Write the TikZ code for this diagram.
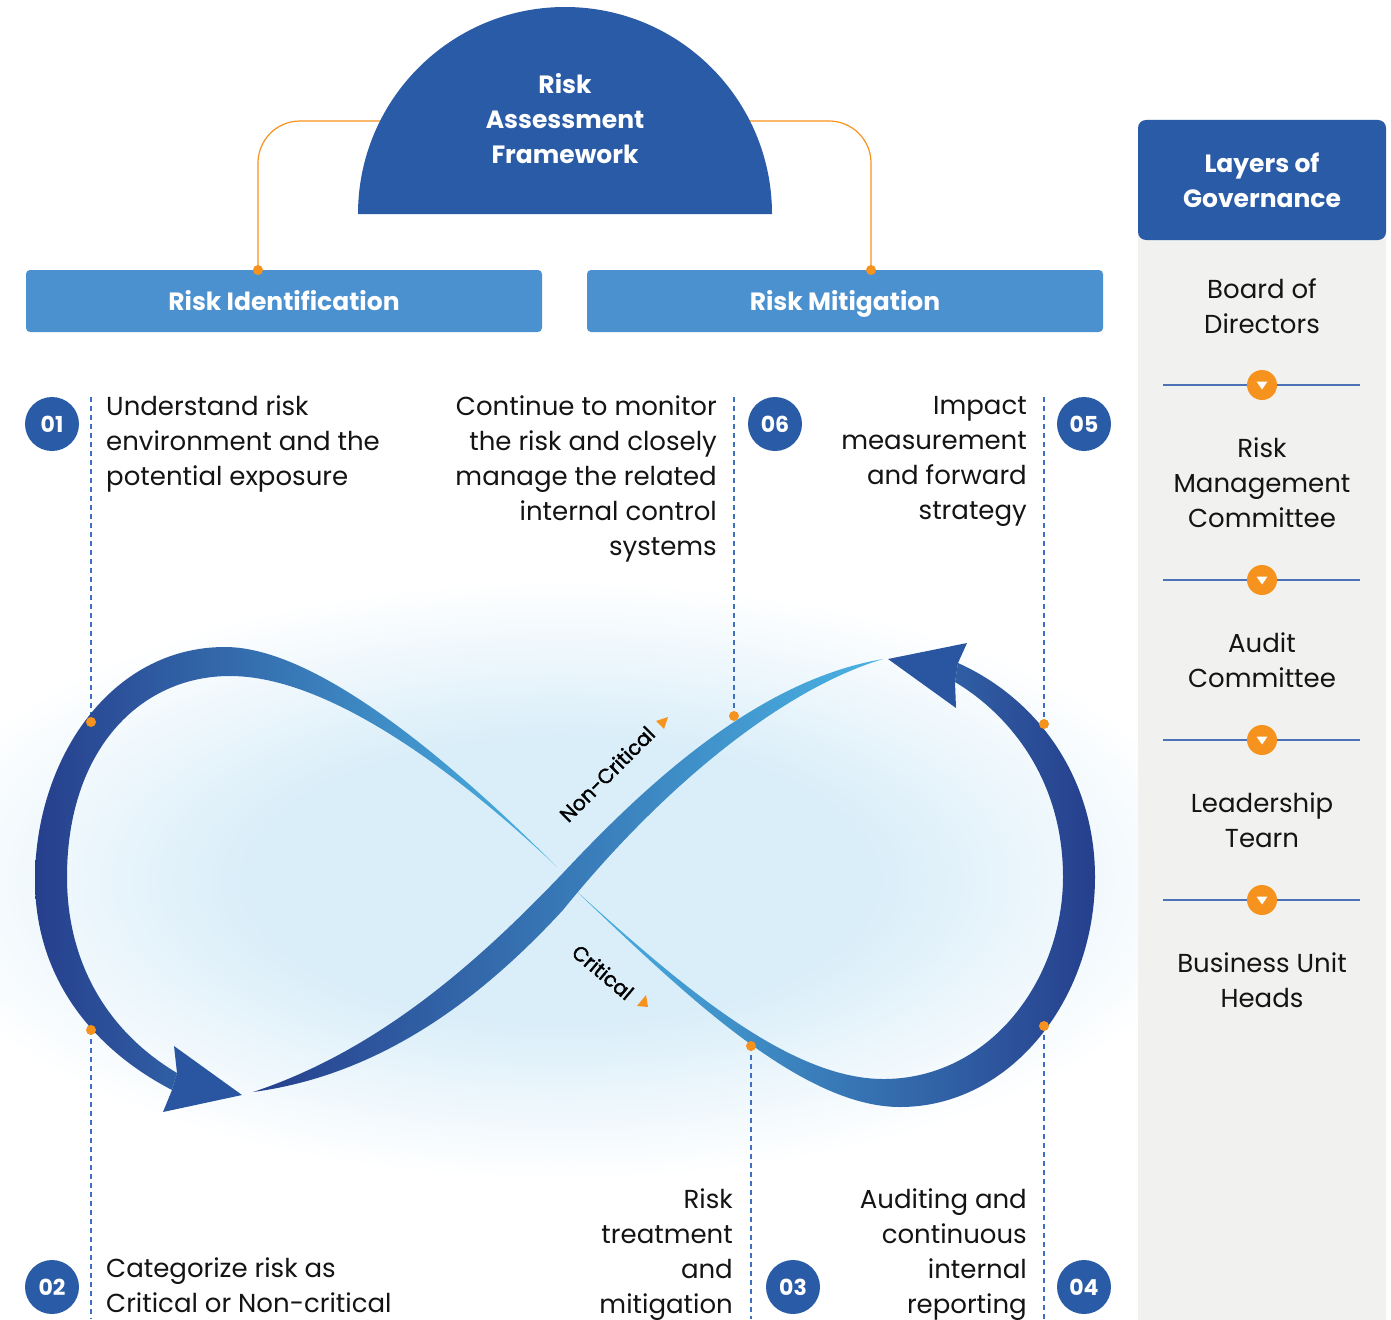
\documentclass[tikz,border=0pt]{standalone}
\usepackage{fontspec}
\setmainfont{Poppins}
\newfontfamily\tagfont{Poppins}[FakeBold=1.6]
\definecolor{domeblue}{HTML}{2A5BA6}
\definecolor{barblue}{HTML}{4B91CF}
\definecolor{loopdark}{HTML}{263F8C}
\definecolor{loopmid}{HTML}{2F68AD}
\definecolor{looplight}{HTML}{4AB3E3}
\definecolor{headblue}{HTML}{2A55A0}
\definecolor{accent}{HTML}{F6921E}
\definecolor{panelgrey}{HTML}{F1F1EF}
\definecolor{dashblue}{HTML}{3F6FC0}
\definecolor{sepblue}{HTML}{4D72B8}
\definecolor{glowblue}{HTML}{DAEEF9}
\definecolor{inktext}{HTML}{141414}
\pgfdeclareradialshading{bgglow}{\pgfpoint{0bp}{0bp}}{color(0bp)=(glowblue); color(12bp)=(glowblue); color(25bp)=(white); color(50bp)=(white)}
\begin{document}
\begin{tikzpicture}[x=1pt,y=-1pt,
  bar/.style={fill=barblue,rounded corners=4pt,minimum width=516pt,minimum height=62pt,inner sep=0pt,text height=18pt,text depth=0pt,text=white,font=\bfseries\fontsize{25}{30}\selectfont},
  num/.style={circle,fill=domeblue,minimum size=54pt,inner sep=0pt,text=white,font=\bfseries\fontsize{22}{24}\selectfont},
  body/.style={inner sep=0pt,text=inktext,font=\fontsize{26}{35}\selectfont},
  tag/.style={inner sep=0pt,text=black,font=\tagfont\fontsize{20.5}{22}\selectfont},
  link/.style={draw=accent,line width=1.2pt,rounded corners=42pt},
  guide/.style={draw=dashblue,line width=1.4pt,dash pattern=on 5pt off 4pt},
  sep/.style={draw=sepblue,line width=1.3pt},
  dot/.style={fill=accent}]
\useasboundingbox (0,0) rectangle (1391,1319);
\fill[white] (0,0) rectangle (1391,1319);
\shade[shading=bgglow] (560,880) ellipse [x radius=660, y radius=300];

\fill[panelgrey,rounded corners=8pt] (1138,120) rectangle (1386,1360);
\node[fill=domeblue,rounded corners=8pt,minimum width=248pt,minimum height=120pt,inner sep=0pt,align=center,text=white,font=\bfseries\fontsize{25}{35}\selectfont] (layers) at (1262,180) {Layers of\\Governance};
\foreach \y in {385,580,740,900} {
  \draw[sep] (1163,\y) -- (1360,\y);
  \fill[accent] (1262,\y) circle (15pt);
  \fill[white] (1256.5,\y-3.5) -- (1267.5,\y-3.5) -- (1262,\y+4.5) -- cycle;
}
\node[body,align=center,anchor=north] (g1) at (1262,278) {Board of\\Directors};
\node[body,align=center,anchor=north] (g2) at (1262,438) {Risk\\Management\\Committee};
\node[body,align=center,anchor=north] (g3) at (1262,633) {Audit\\Committee};
\node[body,align=center,anchor=north] (g4) at (1262,793) {Leadership\\Tearn};
\node[body,align=center,anchor=north] (g5) at (1262,953) {Business Unit\\Heads};

\node[bar] (ident) at (284,301) {Risk Identification};
\node[bar] (mitig) at (845,301) {Risk Mitigation};
\coordinate (domeL) at (420,121);
\coordinate (domeR) at (710,121);
\coordinate (identTop) at (258,270);
\coordinate (mitigTop) at (871,270);
\draw[link] (domeL) -| (identTop);
\draw[link] (domeR) -| (mitigTop);
\fill[dot] (identTop) circle (5pt);
\fill[dot] (mitigTop) circle (5pt);
\fill[domeblue] (358,214) arc[start angle=180, end angle=360, radius=207] -- cycle;
\node[inner sep=0pt,align=center,text=white,font=\bfseries\fontsize{25}{35}\selectfont] (frame) at (565,119) {Risk\\Assessment\\Framework};

\coordinate (d1a) at (91,397);   \coordinate (d1b) at (91,722);
\coordinate (d2a) at (91,1030);  \coordinate (d2b) at (91,1319);
\coordinate (d6a) at (734,397);  \coordinate (d6b) at (734,716);
\coordinate (d5a) at (1044,397); \coordinate (d5b) at (1044,724);
\coordinate (d4a) at (1044,1026);\coordinate (d4b) at (1044,1319);
\coordinate (d3a) at (751,1046); \coordinate (d3b) at (751,1319);
\draw[guide] (d1a) -- (d1b);
\draw[guide] (d2a) -- (d2b);
\draw[guide] (d6a) -- (d6b);
\draw[guide] (d5a) -- (d5b);
\draw[guide] (d4a) -- (d4b);
\draw[guide] (d3a) -- (d3b);

\shade[left color=loopdark,middle color=loopmid,right color=looplight]
  (557,867) .. controls (460,770) and (320,647) .. (225,647)
  .. controls (110,647) and (35,760) .. (35,880)
  .. controls (35,980) and (95,1050) .. (172,1090)
  -- (177,1073)
  .. controls (105,1030) and (67,960) .. (67,877)
  .. controls (67,750) and (140,676) .. (230,676)
  .. controls (330,676) and (460,775) .. (557,867) -- cycle;
\fill[headblue] (174,1046) -- (242,1095) -- (163,1112) -- (172,1090) -- (177,1073) -- cycle;

\shade[left color=looplight,middle color=loopmid,right color=loopdark]
  (573,888) .. controls (680,985) and (790,1080) .. (885,1079)
  .. controls (990,1078) and (1063,980) .. (1063,877)
  .. controls (1063,780) and (1010,715) .. (955,682)
  -- (958,663)
  .. controls (1040,700) and (1095,780) .. (1095,877)
  .. controls (1095,1000) and (1010,1107) .. (900,1107)
  .. controls (800,1107) and (680,990) .. (573,888) -- cycle;
\fill[headblue] (967,643) -- (888,659) -- (956,708) -- (955,682) -- (958,663) -- cycle;

\shade[left color=loopdark,middle color=loopmid,right color=looplight]
  (253,1092) .. controls (380,1050) and (480,960) .. (563,873)
  .. controls (650,780) and (760,680) .. (883,659)
  .. controls (780,690) and (660,790) .. (563,910)
  .. controls (480,1000) and (380,1075) .. (253,1092) -- cycle;

\fill[dot] (d1b) circle (5pt);
\fill[dot] (d2a) circle (5pt);
\fill[dot] (d6b) circle (5pt);
\fill[dot] (d5b) circle (5pt);
\fill[dot] (d4a) circle (5pt);
\fill[dot] (d3a) circle (5pt);

\node[tag,rotate=45] (noncrit) at (607,774) {Non-Critical};
\node[tag,rotate=-40] (crit) at (603,972) {Critical};
\fill[accent] (656,721) -- (668,717) -- (664,729) -- cycle;
\fill[accent] (637,1006) -- (648,1007) -- (646,995) -- cycle;

\node[num] (n1) at (52,424) {01};
\node[num] (n2) at (52,1287) {02};
\node[num] (n3) at (793,1287) {03};
\node[num] (n4) at (1084,1287) {04};
\node[num] (n5) at (1084,424) {05};
\node[num] (n6) at (775,424) {06};

\node[body,anchor=north west,align=left] (t1) at (106,396) {Understand risk\\environment and the\\potential exposure};
\node[body,anchor=north east,align=right] (t6) at (717,396) {Continue to monitor\\the risk and closely\\manage the related\\internal control\\systems};
\node[body,anchor=north east,align=right] (t5) at (1027,396) {Impact\\measurement\\and forward\\strategy};
\node[body,anchor=north west,align=left] (t2) at (106,1257) {Categorize risk as\\Critical or Non-critical};
\node[body,anchor=north east,align=right] (t3) at (733,1188) {Risk\\treatment\\and\\mitigation};
\node[body,anchor=north east,align=right] (t4) at (1027,1188) {Auditing and\\continuous\\internal\\reporting};
\end{tikzpicture}
\end{document}
